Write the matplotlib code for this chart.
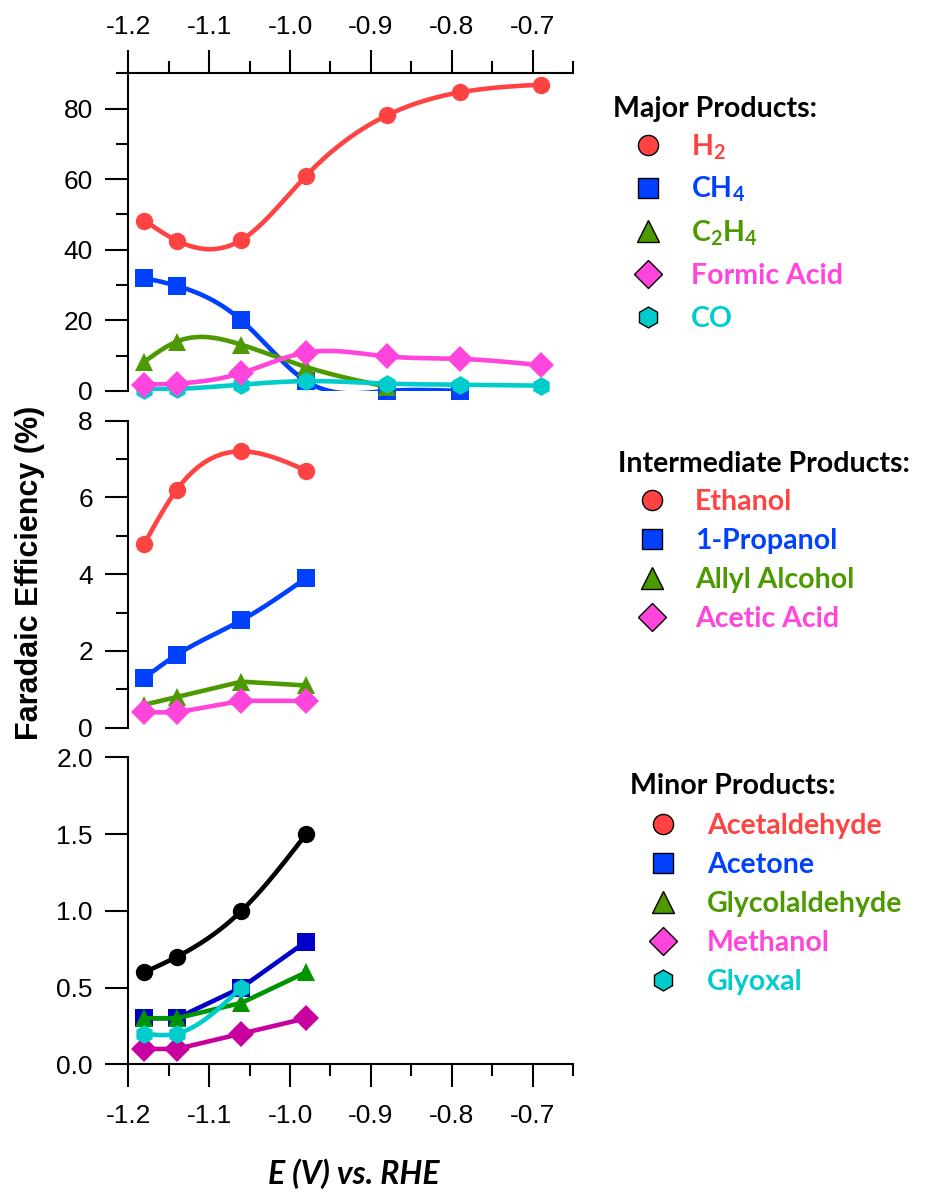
import numpy as np
import matplotlib
matplotlib.use("Agg")
import matplotlib.pyplot as plt
from matplotlib.ticker import MultipleLocator, FormatStrFormatter

plt.rcParams['font.family'] = ['Liberation Sans', 'DejaVu Sans']
plt.rcParams['axes.unicode_minus'] = False
plt.rcParams['mathtext.fontset'] = 'custom'
plt.rcParams['mathtext.rm'] = 'Lato:bold'
plt.rcParams['mathtext.it'] = 'Lato:bold:italic'
plt.rcParams['mathtext.bf'] = 'Lato:bold'
plt.rcParams['mathtext.default'] = 'rm'

# ---- data (potential in V vs RHE, faradaic efficiency in %)
E_all = [-1.18, -1.14, -1.06, -0.98, -0.88, -0.79, -0.69]
h2 = [48.3, 42.6, 42.8, 61.0, 78.1, 84.6, 86.8]
ch4 = [32.0, 29.8, 20.0, 2.8, 0.0, 0.0]
c2h4 = [8.3, 14.0, 13.1, 6.8, 1.2]
formic = [1.8, 2.1, 5.1, 10.9, 9.8, 9.1, 7.3]
co = [0.4, 0.6, 1.8, 2.8, 2.1, 1.8, 1.5]

E_low = [-1.18, -1.14, -1.06, -0.98]
ethanol = [4.8, 6.2, 7.2, 6.7]
propanol = [1.3, 1.9, 2.8, 3.9]
allyl = [0.6, 0.8, 1.2, 1.1]
acetic = [0.4, 0.4, 0.7, 0.7]

acetaldehyde = [0.6, 0.7, 1.0, 1.5]
acetone = [0.3, 0.3, 0.5, 0.8]
glycolaldehyde = [0.3, 0.3, 0.4, 0.6]
methanol = [0.1, 0.1, 0.2, 0.3]
glyoxal = [0.2, 0.2, 0.5]

major_names = ['H$_2$', 'CH$_4$', 'C$_2$H$_4$', 'Formic Acid', 'CO']
inter_names = ['Ethanol', '1-Propanol', 'Allyl Alcohol', 'Acetic Acid']
minor_names = ['Acetaldehyde', 'Acetone', 'Glycolaldehyde', 'Methanol', 'Glyoxal']

RED = '#ff4343'
BLUE = '#0040ff'
GREEN = '#4c9a00'
PINK = '#ff45dc'
CYAN = '#00cccc'
leg_colors = [RED, BLUE, GREEN, PINK, CYAN]
leg_markers = ['o', 's', '^', 'D', 'h']
leg_ms = [14.5, 15, 16, 14.5, 15]


def spline(x, y, n=300):
    # natural cubic spline through the points (for the smooth curves)
    x = np.asarray(x, float)
    y = np.asarray(y, float)
    m = len(x)
    h = np.diff(x)
    A = np.zeros((m, m))
    r = np.zeros(m)
    A[0, 0] = A[-1, -1] = 1
    for i in range(1, m - 1):
        A[i, i - 1] = h[i - 1]
        A[i, i] = 2 * (h[i - 1] + h[i])
        A[i, i + 1] = h[i]
        r[i] = 3 * ((y[i + 1] - y[i]) / h[i] - (y[i] - y[i - 1]) / h[i - 1])
    c = np.linalg.solve(A, r)
    b = (y[1:] - y[:-1]) / h - h * (2 * c[:-1] + c[1:]) / 3
    d = (c[1:] - c[:-1]) / (3 * h)
    xs = np.linspace(x[0], x[-1], n)
    idx = np.clip(np.searchsorted(x, xs) - 1, 0, m - 2)
    dx = xs - x[idx]
    ys = y[idx] + b[idx] * dx + c[idx] * dx ** 2 + d[idx] * dx ** 3
    return xs, ys


def draw(ax, x, y, color, marker, ms, smooth=True):
    x = x[:len(y)]
    if smooth:
        xs, ys = spline(x, y)
    else:
        xs, ys = x, y
    ax.plot(xs, ys, color=color, lw=3.3, solid_capstyle='butt')
    ax.plot(x, y, ls='none', marker=marker, ms=ms, color=color,
            mew=0, clip_on=False)


fig = plt.figure(figsize=(9.3, 11.92), dpi=100)
L, W = 128.3 / 930, (573 - 128.3) / 930
ax1 = fig.add_axes([L, 1 - 391 / 1192, W, (391 - 73.3) / 1192])
ax2 = fig.add_axes([L, 1 - 727.7 / 1192, W, (727.7 - 420.7) / 1192])
ax3 = fig.add_axes([L, 1 - 1064.3 / 1192, W, (1064.3 - 757.3) / 1192])

draw(ax1, E_all, h2, RED, 'o', 12.5)
draw(ax1, E_all, ch4, BLUE, 's', 12.5)
draw(ax1, E_all, c2h4, GREEN, '^', 13.5)
draw(ax1, E_all, co, CYAN, 'h', 13.5)
draw(ax1, E_all, formic, PINK, 'D', 13.5)

draw(ax2, E_low, ethanol, RED, 'o', 12.5)
draw(ax2, E_low, propanol, BLUE, 's', 12.5)
draw(ax2, E_low, allyl, GREEN, '^', 13.5, smooth=False)
draw(ax2, E_low, acetic, PINK, 'D', 13.5, smooth=False)

draw(ax3, E_low, acetaldehyde, 'black', 'o', 12.5)
draw(ax3, E_low, acetone, '#0000c8', 's', 12.5, smooth=False)
draw(ax3, E_low, glycolaldehyde, '#009400', '^', 13.5, smooth=False)
draw(ax3, E_low, methanol, '#c800a0', 'D', 13.5, smooth=False)
draw(ax3, E_low, glyoxal, CYAN, 'h', 13.5)

for ax in (ax1, ax2, ax3):
    ax.set_xlim(-1.2, -0.65)
    ax.set_facecolor('none')
    for s in ax.spines.values():
        s.set_linewidth(1.5)
        s.set_visible(False)
    ax.spines['left'].set_visible(True)
    ax.xaxis.set_major_locator(MultipleLocator(0.1))
    ax.xaxis.set_minor_locator(MultipleLocator(0.05))
    ax.xaxis.set_major_formatter(FormatStrFormatter('%.1f'))

ax1.set_ylim(0, 90)
ax1.yaxis.set_major_locator(MultipleLocator(20))
ax1.yaxis.set_minor_locator(MultipleLocator(10))
ax1.spines['top'].set_visible(True)
ax1.xaxis.tick_top()

ax2.set_ylim(0, 8)
ax2.yaxis.set_major_locator(MultipleLocator(2))
ax2.yaxis.set_minor_locator(MultipleLocator(1))

ax3.set_ylim(0, 2)
ax3.yaxis.set_major_locator(MultipleLocator(0.5))
ax3.yaxis.set_minor_locator(plt.NullLocator())
ax3.spines['bottom'].set_visible(True)

for ax in (ax1, ax2, ax3):
    ax.tick_params(axis='both', which='major', length=16.5, width=1.5,
                   labelsize=19, pad=9)
    ax.tick_params(axis='both', which='minor', length=8.5, width=1.5)
    ax.tick_params(axis='x', which='major', pad=12)

ax1.tick_params(axis='x', which='both', top=True, bottom=False,
                labeltop=True, labelbottom=False)
ax1.tick_params(axis='x', which='major', pad=8)
ax2.tick_params(axis='x', which='both', bottom=False, top=False,
                labelbottom=False, labeltop=False)
ax3.tick_params(axis='x', which='both', bottom=True, top=False,
                labelbottom=True)

fig.text(30 / 930, 1 - 573 / 1192, 'Faradaic Efficiency (%)', rotation=90,
         ha='center', va='center', fontsize=22, fontweight='bold')
fig.text(354 / 930, 1 - 1184 / 1192, 'E (V) vs. RHE', ha='center',
         va='baseline', fontsize=23, fontweight='bold', style='italic',
         family='Lato')

# ---- legends, drawn in pixel coordinates on an overlay
ov = fig.add_axes([0, 0, 1, 1])
ov.set_xlim(0, 930)
ov.set_ylim(1192, 0)
ov.axis('off')


def legend_block(title, names, tx, ty, mx, txt_x, y0, dy):
    ov.text(tx, ty, title, family='Lato', fontweight='bold', fontsize=20.5,
            va='baseline', ha='left')
    for i, name in enumerate(names):
        y = y0 + i * dy
        ov.plot(mx, y, ls='none', marker=leg_markers[i], ms=leg_ms[i],
                mfc=leg_colors[i], mec='black', mew=1)
        ov.text(txt_x, y + 10.5, name, family='Lato', fontweight='bold',
                fontsize=20.5, color=leg_colors[i], va='baseline', ha='left')


legend_block('Major Products:', major_names, 613, 116.7, 648, 691, 144.5, 43)
legend_block('Intermediate Products:', inter_names, 618, 471.7, 652, 695, 499.5, 39)
legend_block('Minor Products:', minor_names, 630, 794, 663, 707, 823.5, 39)

fig.savefig('out.png', dpi=100)
